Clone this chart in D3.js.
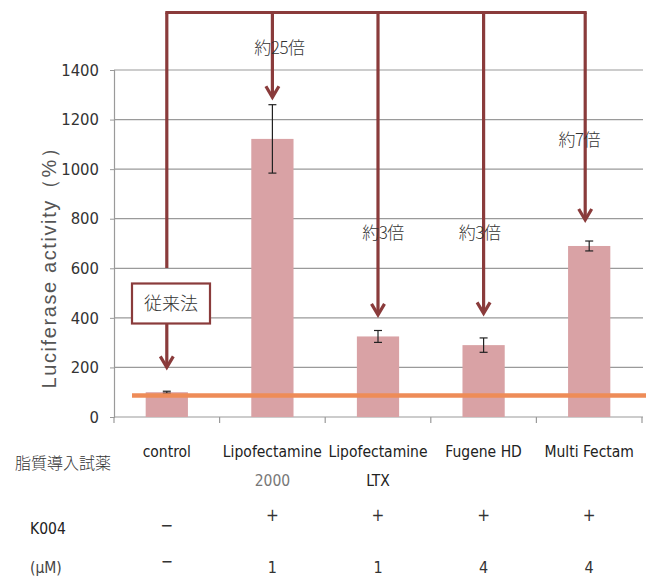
<!DOCTYPE html>
<html lang="ja">
<head>
  <meta charset="UTF-8">
  <title>Luciferase activity</title>
  <script src="https://d3js.org/d3.v7.min.js"></script>
</head>
<body>
</body>
<style>
  body {
    margin: 0;
    padding: 0;
    background: #fff;
  }

  text {
    font-family: "Liberation Sans Narrow", "DejaVu Sans Condensed", "Noto Sans CJK JP", sans-serif;
  }

  .jp {
    font-family: "Noto Sans CJK JP", sans-serif;
    font-weight: 300;
  }
</style>
<script>
  const width = 646
  const height = 583

  // data
  const names = ['control', 'Lipofectamine', 'Lipofectamine', 'Fugene HD', 'Multi Fectam']
  const subNames = ['', '2000', 'LTX', '', '']
  const activity = [100, 1122, 325, 290, 690]
  const errors = [4, 138, 24, 29, 20]
  const baseline = 87
  const yTicks = [0, 200, 400, 600, 800, 1000, 1200, 1400]
  const k004 = ['−', '+', '+', '+', '+']
  const conc = ['−', '1', '1', '4', '4']
  const folds = ['', '約25倍', '約3倍', '約3倍', '約7倍']
  const arrowTips = [200, 1290, 412, 418, 795]

  const colors = {
    bar: '#d9a2a5',
    arrow: '#8a3b3b',
    orange: '#ee8c58',
    grid: '#9a9a9a',
    text: '#333'
  }

  const x = d3.scaleBand()
    .domain(d3.range(names.length))
    .range([114, 642])
    .paddingInner(0.6)
    .paddingOuter(0.3)

  const y = d3.scaleLinear()
    .domain([0, 1400])
    .range([417, 70])

  const cx = i => x(i) + x.bandwidth() / 2

  const svg = d3.select('body').append('svg')
    .attr('width', width)
    .attr('height', height)

  // gridlines
  svg.append('g')
    .selectAll('line')
    .data(yTicks.filter(d => d > 0))
    .join('line')
    .attr('x1', 114).attr('x2', 643)
    .attr('y1', d => y(d)).attr('y2', d => y(d))
    .attr('stroke', colors.grid)
    .attr('stroke-width', 1.2)

  // y axis
  const yAxis = svg.append('g')
    .attr('transform', 'translate(114,0)')
    .call(d3.axisLeft(y).tickValues(yTicks).tickFormat(d3.format('d')).tickSize(4).tickPadding(11))
  yAxis.select('.domain').attr('stroke', colors.grid).attr('stroke-width', 1.2)
  yAxis.selectAll('.tick line').attr('stroke', colors.grid)
  yAxis.selectAll('text')
    .attr('fill', colors.text)
    .style('font-size', '16.5px')

  // x axis line with band separators
  svg.append('line')
    .attr('x1', 114).attr('x2', 643)
    .attr('y1', y(0)).attr('y2', y(0))
    .attr('stroke', colors.grid)
    .attr('stroke-width', 1.2)
  svg.append('g')
    .selectAll('line')
    .data(d3.range(names.length + 1))
    .join('line')
    .attr('x1', i => 114 + i * x.step())
    .attr('x2', i => 114 + i * x.step())
    .attr('y1', y(0)).attr('y2', y(0) + 6)
    .attr('stroke', colors.grid)
    .attr('stroke-width', 1.2)

  // y label
  svg.append('text')
    .attr('transform', `translate(56,${(y(0) + y(1400)) / 2 + 19}) rotate(-90)`)
    .attr('text-anchor', 'middle')
    .style('font-family', '"Liberation Sans", Arial, sans-serif')
    .style('font-size', '20px')
    .style('letter-spacing', '1.6px')
    .attr('fill', '#555')
    .text('Luciferase activity（%）')

  // bars
  svg.append('g')
    .selectAll('rect')
    .data(activity)
    .join('rect')
    .attr('x', (d, i) => x(i))
    .attr('y', d => y(d))
    .attr('width', x.bandwidth())
    .attr('height', d => y(0) - y(d))
    .attr('fill', colors.bar)

  // error bars
  const eb = svg.append('g')
    .attr('stroke', '#222')
    .attr('stroke-width', 1.2)
    .selectAll('g')
    .data(activity)
    .join('g')
  eb.append('line')
    .attr('x1', (d, i) => cx(i)).attr('x2', (d, i) => cx(i))
    .attr('y1', (d, i) => y(d + errors[i])).attr('y2', (d, i) => y(d - errors[i]))
  eb.append('line')
    .attr('x1', (d, i) => cx(i) - 4).attr('x2', (d, i) => cx(i) + 4)
    .attr('y1', (d, i) => y(d + errors[i])).attr('y2', (d, i) => y(d + errors[i]))
  eb.append('line')
    .attr('x1', (d, i) => cx(i) - 4).attr('x2', (d, i) => cx(i) + 4)
    .attr('y1', (d, i) => y(d - errors[i])).attr('y2', (d, i) => y(d - errors[i]))

  // orange reference line
  svg.append('line')
    .attr('x1', 132).attr('x2', width)
    .attr('y1', y(baseline)).attr('y2', y(baseline))
    .attr('stroke', colors.orange)
    .attr('stroke-width', 4.5)

  // arrows
  const topY = 12.5
  const arrows = svg.append('g')
    .attr('stroke', colors.arrow)
    .attr('fill', 'none')
    .attr('stroke-width', 3.2)
  const arrowX = i => (i === names.length - 1 ? cx(i) - 4 : cx(i))
  arrows.append('line')
    .attr('x1', arrowX(0) - 1.5).attr('x2', arrowX(names.length - 1) + 1.5)
    .attr('y1', topY).attr('y2', topY)

  d3.range(names.length).forEach(i => {
    const tip = y(arrowTips[i])
    if (i === 0) {
      arrows.append('line')
        .attr('x1', arrowX(i)).attr('x2', arrowX(i))
        .attr('y1', topY).attr('y2', 268)
      arrows.append('line')
        .attr('x1', arrowX(i)).attr('x2', arrowX(i))
        .attr('y1', 323).attr('y2', tip - 1)
    } else {
      arrows.append('line')
        .attr('x1', arrowX(i)).attr('x2', arrowX(i))
        .attr('y1', topY).attr('y2', tip - 1)
    }
    arrows.append('path')
      .attr('d', `M${arrowX(i) - 6.5},${tip - 11}L${arrowX(i)},${tip}L${arrowX(i) + 6.5},${tip - 11}`)
      .attr('stroke-linejoin', 'miter')
  })

  // 従来法 box
  svg.append('rect')
    .attr('x', 132).attr('y', 283.5)
    .attr('width', 78).attr('height', 40)
    .attr('fill', '#fff')
    .attr('stroke', colors.arrow)
    .attr('stroke-width', 2.2)
  svg.append('text')
    .attr('class', 'jp')
    .attr('x', 171).attr('y', 310)
    .attr('text-anchor', 'middle')
    .style('font-size', '18px')
    .attr('fill', '#333')
    .text('従来法')

  // fold labels
  const foldY = [0, 1490, 742, 742, 1117]
  const foldDx = [0, 7, 5, -4, -6]
  svg.append('g')
    .selectAll('text')
    .data(folds)
    .join('text')
    .attr('class', 'jp')
    .attr('x', (d, i) => arrowX(i) + foldDx[i])
    .attr('y', (d, i) => y(foldY[i]) + 6)
    .attr('text-anchor', 'middle')
    .style('font-size', '17px')
    .style('letter-spacing', '-0.5px')
    .attr('fill', '#333')
    .text(d => d)

  // category labels
  svg.append('g')
    .selectAll('text')
    .data(names)
    .join('text')
    .attr('x', (d, i) => cx(i))
    .attr('y', 457)
    .attr('text-anchor', 'middle')
    .style('font-size', '15.5px')
    .attr('fill', '#222')
    .text(d => d)
  svg.append('g')
    .selectAll('text')
    .data(subNames)
    .join('text')
    .attr('x', (d, i) => cx(i))
    .attr('y', 486)
    .attr('text-anchor', 'middle')
    .style('font-size', '15.5px')
    .attr('fill', (d, i) => (i === 1 ? '#777' : '#222'))
    .text(d => d)

  // row labels
  svg.append('text')
    .attr('class', 'jp')
    .attr('x', 15).attr('y', 469)
    .style('font-size', '16px')
    .attr('fill', '#333')
    .text('脂質導入試薬')
  svg.append('text')
    .attr('x', 30).attr('y', 534)
    .style('font-size', '15.5px')
    .attr('fill', '#222')
    .text('K004')
  svg.append('text')
    .attr('x', 30).attr('y', 573)
    .style('font-size', '15.5px')
    .attr('fill', '#444')
    .text('(μM)')

  svg.append('g')
    .selectAll('text')
    .data(k004)
    .join('text')
    .attr('x', (d, i) => cx(i))
    .attr('y', d => (d === '+' ? 521 : 531))
    .attr('text-anchor', 'middle')
    .style('font-size', '17px')
    .attr('fill', '#333')
    .text(d => d)
  svg.append('g')
    .selectAll('text')
    .data(conc)
    .join('text')
    .attr('x', (d, i) => cx(i))
    .attr('y', (d, i) => (d === '−' ? 567 : 573))
    .attr('text-anchor', 'middle')
    .style('font-size', '16px')
    .attr('fill', '#333')
    .text(d => d)
</script>
</html>
